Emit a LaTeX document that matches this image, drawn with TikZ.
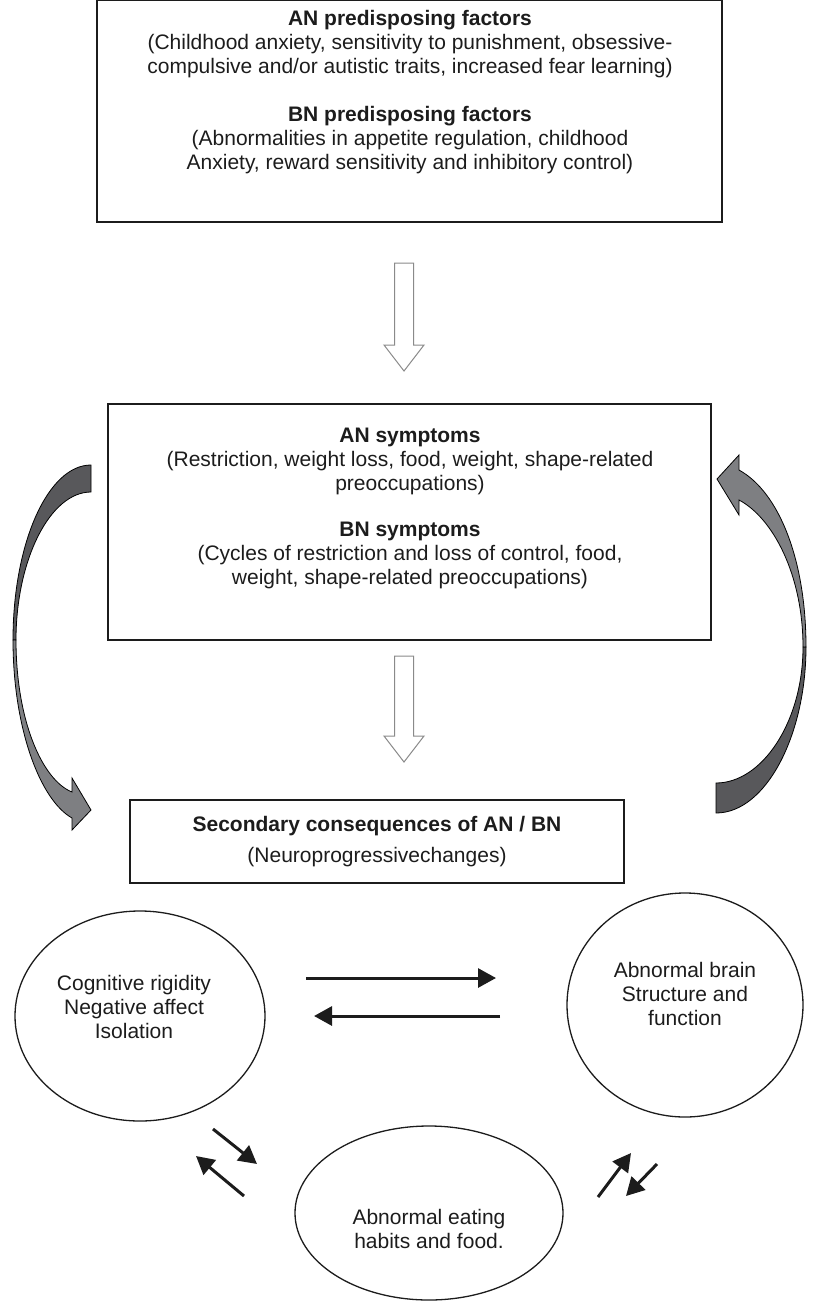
\documentclass[tikz,border=0pt]{standalone}
\usepackage{fontspec}
\setmainfont{Liberation Sans}
\usetikzlibrary{arrows.meta,shapes.geometric,calc}
\definecolor{ink}{HTML}{1C1C1C}
\definecolor{ribbondark}{HTML}{58585B}
\definecolor{ribbonlight}{HTML}{7E7F82}
\definecolor{hollowline}{HTML}{8A8A8A}
% hollow block arrow pointing down from #1 to #2
\newcommand\hollowarrow[2]{%
  \draw[hollow] let \p1=(#1), \p2=(#2) in
    (\x1-9.5pt,\y1) -- (\x1+9.5pt,\y1) -- (\x1+9.5pt,\y2+26pt) --
    (\x1+20pt,\y2+26pt) -- (\x2,\y2) -- (\x1-20pt,\y2+26pt) --
    (\x1-9.5pt,\y2+26pt) -- cycle;}
\begin{document}
\begin{tikzpicture}[x=1pt,y=-1pt,
  frame/.style={draw=ink, line width=1.4pt, inner sep=0pt},
  oval/.style={ellipse, draw=ink, line width=1.3pt, inner sep=0pt},
  txt/.style={font=\fontsize{21}{24}\selectfont, text=ink, align=center, inner sep=0pt},
  hdtxt/.style={txt, font=\fontsize{21}{24}\selectfont\bfseries},
  hollow/.style={draw=hollowline, line width=1pt, fill=white},
  ribbon/.style={draw=black, line width=0.8pt},
  link/.style={draw=ink, line width=3pt, -{Triangle[length=18pt,width=19pt]}},
]
\useasboundingbox (0,0) rectangle (817,1302);

% --- boxes ---------------------------------------------------------
\node[frame, minimum width=625, minimum height=222] (pre) at (409.5,111) {};
\node[frame, minimum width=603, minimum height=236] (sym) at (409.5,522) {};
\node[frame, minimum width=494, minimum height=83] (sec) at (377,841.5) {};

\node[txt] (anpre) at (410,44) {\textbf{AN predisposing factors}\\
  (Childhood anxiety, sensitivity to punishment, obsessive-\\
  compulsive and/or autistic traits, increased fear learning)};
\node[txt] (bnpre) at (410,140) {\textbf{BN predisposing factors}\\
  (Abnormalities in appetite regulation, childhood\\
  Anxiety, reward sensitivity and inhibitory control)};

\node[txt] (ansym) at (410,461) {\textbf{AN symptoms}\\
  (Restriction, weight loss, food, weight, shape-related\\
  preoccupations)};
\node[txt] (bnsym) at (410,555) {\textbf{BN symptoms}\\
  (Cycles of restriction and loss of control, food,\\
  weight, shape-related preoccupations)};

\node[hdtxt] (sectitle) at (377,826) {Secondary consequences of AN / BN};
\node[txt] (secsub) at (377,857) {(Neuroprogressivechanges)};

% --- ellipses ------------------------------------------------------
\node[oval, minimum width=250, minimum height=210] (cog) at (140,1016) {};
\node[oval, minimum width=236, minimum height=224] (brain) at (685,1005) {};
\node[oval, minimum width=268, minimum height=174] (eat) at (429,1213) {};

\node[txt] (cogtxt) at (134,1007) {Cognitive rigidity\\Negative affect\\Isolation};
\node[txt] (braintxt) at (685,994) {Abnormal brain\\Structure and\\function};
\node[txt] (eattxt) at (429,1229) {Abnormal eating\\habits and food.};

% --- hollow arrows between the boxes -------------------------------
\coordinate (d1a) at (404,263);
\coordinate (d1b) at (404,371);
\coordinate (d2a) at (404,656);
\coordinate (d2b) at (404,762);
\hollowarrow{d1a}{d1b}
\hollowarrow{d2a}{d2b}

% --- curved ribbon arrows ------------------------------------------
% left: from the symptoms box down to the consequences box
\fill[ribbondark, ribbon] (91,465) .. controls (48,465) and (13,543) .. (13,640)
  -- (16,640) .. controls (16,560) and (50,492) .. (91,492) -- cycle;
\fill[ribbonlight, ribbon] (13,640) .. controls (13,728) and (40,800) .. (72,818)
  -- (72,830) -- (91,810) -- (72,778) -- (72,792)
  .. controls (42,780) and (16,720) .. (16,640) -- cycle;
% right: from the consequences box back up to the symptoms box
\fill[ribbondark, ribbon] (716,813) .. controls (766,813) and (806,735) .. (806,647)
  -- (803,647) .. controls (803,722) and (762,783) .. (716,783) -- cycle;
\fill[ribbonlight, ribbon] (806,647) .. controls (806,560) and (779,492) .. (739,470)
  -- (739,455) -- (717,479) -- (739,515) -- (739,500)
  .. controls (773,518) and (803,575) .. (803,647) -- cycle;

% --- solid arrows between the ellipses -----------------------------
\coordinate (r1a) at (306,978);
\coordinate (r1b) at (496,978);
\coordinate (l1a) at (500,1016);
\coordinate (l1b) at (314,1016);
\draw[link] (r1a) -- (r1b);
\draw[link] (l1a) -- (l1b);

\coordinate (s1a) at (213,1129);
\coordinate (s1b) at (257,1164);
\coordinate (s2a) at (244,1196);
\coordinate (s2b) at (196,1156);
\draw[link] (s1a) -- (s1b);
\draw[link] (s2a) -- (s2b);

\coordinate (s3a) at (598,1197);
\coordinate (s3b) at (631,1153);
\coordinate (s4a) at (657,1164);
\coordinate (s4b) at (626,1196);
\draw[link] (s3a) -- (s3b);
\draw[link] (s4a) -- (s4b);
\end{tikzpicture}
\end{document}
